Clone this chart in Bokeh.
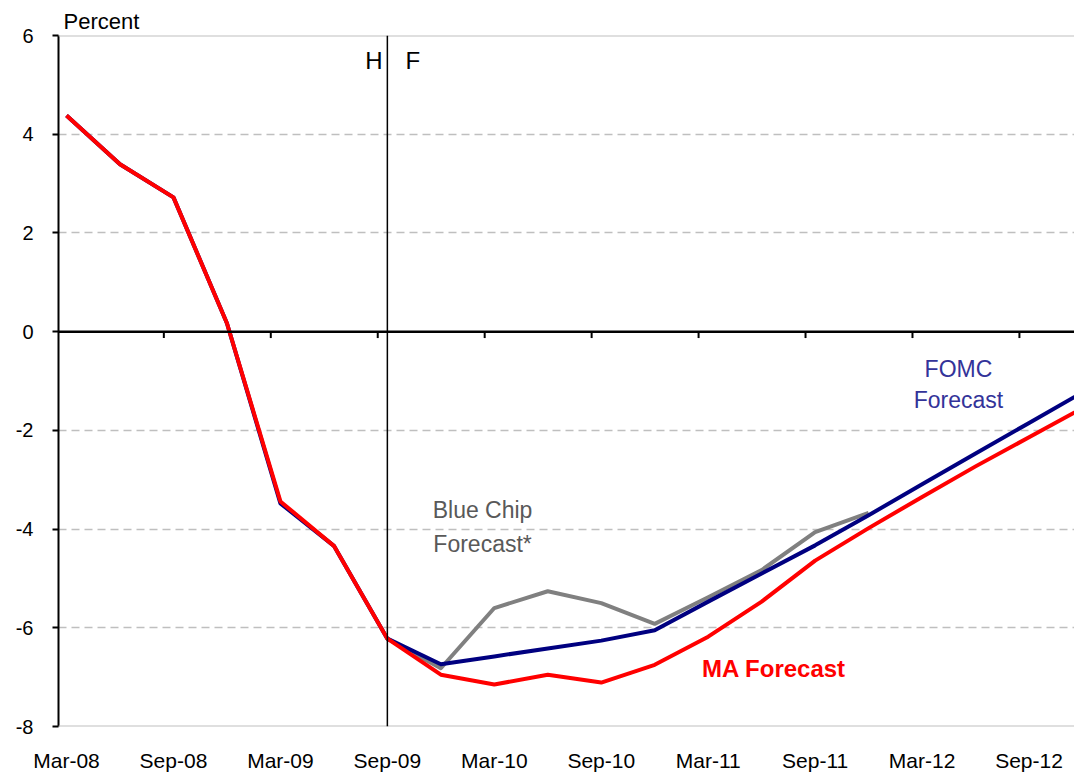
from bokeh.plotting import figure
from bokeh.models import FixedTicker, Span, Label
from bokeh.embed import file_html
from bokeh.resources import INLINE

# ---- data (quarterly, index 0 = Mar-08) ----
tick_labels = ["Mar-08", "Sep-08", "Mar-09", "Sep-09", "Mar-10",
               "Sep-10", "Mar-11", "Sep-11", "Mar-12", "Sep-12"]
y_ticks = [-8, -6, -4, -2, 0, 2, 4, 6]

ma_forecast = [4.38, 3.39, 2.72, 0.17, -3.44, -4.34, -6.22, -6.95, -7.15, -6.95,
               -7.11, -6.75, -6.18, -5.47, -4.64, -3.98, -3.35, -2.73, -2.14, -1.55]

fomc_forecast = [4.38, 3.39, 2.72, 0.17, -3.48, -4.34, -6.22, -6.74, -6.58, -6.42,
                 -6.26, -6.05, -5.47, -4.90, -4.33, -3.72, -3.09, -2.47, -1.85, -1.23]

bluechip_start = 6
bluechip_forecast = [-6.22, -6.82, -5.60, -5.26, -5.50, -5.92, -5.38, -4.83, -4.06, -3.67]

hist_forecast_split = 6  # Sep-09 (H | F)

x_all = list(range(len(ma_forecast)))
x_bc = list(range(bluechip_start, bluechip_start + len(bluechip_forecast)))

FONT = "Liberation Sans"

p = figure(width=1074, height=775, output_backend="svg", toolbar_location=None,
           x_range=(-0.15, 18.85), y_range=(-8, 6),
           min_border_left=58, min_border_right=0, min_border_top=35, min_border_bottom=49)
p.outline_line_color = None
p.background_fill_color = "white"
p.border_fill_color = "white"

# "Percent" unit label as title
p.title.text = "Percent"
p.title.text_font = FONT
p.title.text_font_size = "22px"
p.title.text_font_style = "normal"
p.title.text_color = "black"
p.title.align = "left"
p.title.offset = 5
p.title.standoff = 3

# grid
p.xgrid.visible = False
p.ygrid.ticker = FixedTicker(ticks=[-6, -4, -2, 2, 4])
p.ygrid.grid_line_color = "#BFBFBF"
p.ygrid.grid_line_width = 1.5
p.ygrid.grid_line_dash = "8 5"

for loc in (6, -8):
    p.add_layout(Span(location=loc, dimension="width", line_color="#BFBFBF", line_width=2))

# y axis
p.yaxis.ticker = FixedTicker(ticks=y_ticks)
p.yaxis.major_label_overrides = {t: str(t) for t in y_ticks}
p.yaxis.axis_line_color = "black"
p.yaxis.axis_line_width = 2
p.yaxis.major_tick_line_color = "black"
p.yaxis.major_tick_line_width = 2
p.yaxis.major_tick_out = 6
p.yaxis.major_tick_in = 0
p.yaxis.minor_tick_line_color = None
p.yaxis.major_label_standoff = 19
p.yaxis.major_label_text_font = FONT
p.yaxis.major_label_text_font_size = "20px"
p.yaxis.major_label_text_color = "black"

# x axis (labels only, at bottom)
label_pos = [2 * i for i in range(len(tick_labels))]
p.xaxis.ticker = FixedTicker(ticks=label_pos)
p.xaxis.major_label_overrides = {pos: lab for pos, lab in zip(label_pos, tick_labels)}
p.xaxis.axis_line_color = None
p.xaxis.major_tick_line_color = None
p.xaxis.minor_tick_line_color = None
p.xaxis.major_label_standoff = 16
p.xaxis.major_label_text_font = FONT
p.xaxis.major_label_text_font_size = "21px"
p.xaxis.major_label_text_color = "black"

# zero line with tick marks
p.add_layout(Span(location=0, dimension="width", line_color="black", line_width=2.5))
tick_x = [pos - 0.18 for pos in label_pos]
p.segment(x0=tick_x, y0=[0] * len(tick_x), x1=tick_x, y1=[-0.13] * len(tick_x),
          line_color="black", line_width=2)

# H | F divider
p.add_layout(Span(location=hist_forecast_split, dimension="height",
                  line_color="black", line_width=1.5))

# series
p.line(x_bc, bluechip_forecast, line_color="#808080", line_width=4, line_join="round")
p.line(x_all, fomc_forecast, line_color="#000080", line_width=4, line_join="round")
p.line(x_all, ma_forecast, line_color="#FF0000", line_width=4, line_join="round")

# annotations
def lab(x, y, text, color="black", size="23px", align="left", style="normal"):
    p.add_layout(Label(x=x, y=y, text=text, text_color=color, text_font=FONT,
                       text_font_size=size, text_align=align,
                       text_baseline="alphabetic", text_font_style=style))

lab(5.91, 5.50, "H", size="24px", align="right")
lab(6.34, 5.50, "F", size="24px")
lab(7.78, -3.61, "Blue Chip", color="#595959", size="23px", align="center")
lab(7.78, -4.30, "Forecast*", color="#595959", size="23px", align="center")
lab(16.68, -0.75, "FOMC", color="#333399", size="23px", align="center")
lab(16.68, -1.38, "Forecast", color="#333399", size="23px", align="center")
lab(13.23, -6.82, "MA Forecast", color="#FF0000", size="24px", align="center", style="bold")

open("out.html", "w").write(file_html(p, INLINE))
